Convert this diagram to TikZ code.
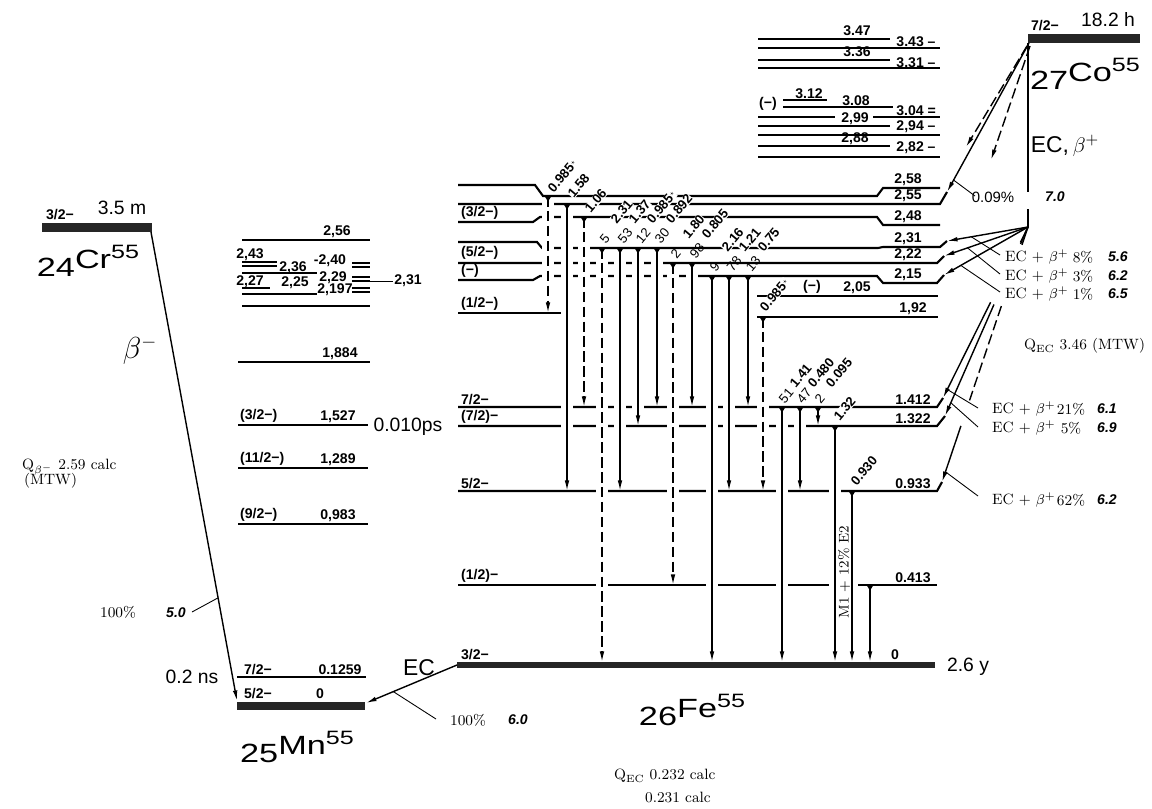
\documentclass[tikz,border=0pt]{standalone}
\usepackage{fontspec}
\usepackage{graphicx}
\setsansfont{Liberation Sans}
\usetikzlibrary{arrows.meta,calc}

% nuclide symbol: Z, element, A
\newcommand{\nucl}[3]{\scalebox{1.3}[1]{\raisebox{-4.5pt}{#1}#2\raisebox{5.5pt}{\fontsize{11}{12}\selectfont #3}}}
% gamma line: x, from y, to y, extra style
\newcommand{\gline}[4]{%
  \draw[gap] (#1,#2+5) -- (#1,#3-6);
  \draw[gs,#4] (#1,#2) -- (#1,#3);
  \fill (#1-3.5,#2) -- (#1+3.5,#2) -- (#1,#2+5.5) -- cycle;}
% small star after an energy
\newcommand{\st}{\kern0.4pt\raisebox{2pt}{\scalebox{0.55}{$\star$}}}

\begin{document}
\begin{tikzpicture}[x=0.02cm,y=-0.02cm,
  lev/.style={line width=1.2pt},
  thin/.style={line width=0.5pt},
  bar/.style={fill=black!85},
  tip/.style={-{Latex[length=6pt,width=2.6pt]}},
  gs/.style={line width=0.8pt,tip},
  gd/.style={dash pattern=on 6pt off 2.5pt},
  gap/.style={draw=white,line width=7pt},
  ec/.style={line width=0.8pt},
  lab/.style={font=\fontsize{8}{9}\sffamily\bfseries,inner sep=1pt},
  spin/.style={lab,anchor=south west},
  en/.style={lab,anchor=south},
  gl/.style={font=\fontsize{7.5}{8}\sffamily\bfseries,rotate=50,anchor=west,inner sep=0.2pt,fill=white},
  gi/.style={font=\fontsize{7.5}{8}\sffamily,rotate=50,anchor=west,inner sep=0.2pt},
  ser/.style={font=\fontsize{8.5}{10}\rmfamily,inner sep=1pt},
  ft/.style={font=\fontsize{8}{9}\sffamily\bfseries\itshape,inner sep=1pt},
  mid/.style={font=\fontsize{11}{12}\sffamily,inner sep=1pt},
  big/.style={font=\fontsize{15}{16}\sffamily,inner sep=0pt}]
  \useasboundingbox (0,0) rectangle (1152,808);

  % ground states
  \fill[bar] (42,223) rectangle (152,232);
  \fill[bar] (237,702) rectangle (365,710);
  \fill[bar] (457,662) rectangle (935,668);
  \fill[bar] (1028,34) rectangle (1140,43);

  % kink ends fed from 27Co55
  \coordinate (k255) at (947,192);
  \coordinate (k231) at (947,241);
  \coordinate (k222) at (944,256);
  \coordinate (k215) at (944,275);
  \coordinate (k1412) at (943,398);
  \coordinate (k1322) at (945,416);
  \coordinate (k933) at (942,482);

  % 26Fe55 levels
  \draw[lev] (458,185) -- (535,185) -- (543,196) -- (877,196) -- (883,188) -- (940,188);
  \draw[lev] (458,204) -- (940,204) -- (k255);
  \draw[lev] (458,222) -- (533,222) -- (540,217) -- (877,217) -- (883,225) -- (940,225);
  \draw[lev] (458,242) -- (537,242) -- (542,248) -- (878,248) -- (883,247) -- (940,247) -- (k231);
  \draw[lev] (458,263) -- (937,263) -- (k222);
  \draw[lev] (458,280) -- (533,280) -- (540,276) -- (877,276) -- (883,283) -- (937,283) -- (k215);
  \draw[lev] (757,296) -- (938,296);
  \draw[lev] (458,313) -- (562,313);
  \draw[lev] (757,317) -- (938,317);
  \draw[lev] (458,407) -- (937,407) -- (k1412);
  \draw[lev] (458,426) -- (937,426) -- (k1322);
  \draw[lev] (458,491) -- (937,491) -- (k933);
  \draw[lev] (458,585) -- (937,585);

  % 25Mn55 levels
  \draw[lev] (242,240) -- (370,240);
  \draw[lev] (242,262) -- (277,262) (242,266) -- (277,266);
  \draw[lev] (242,273) -- (317,273);
  \draw[lev] (352,263) -- (370,263) (352,267) -- (370,267);
  \draw[lev] (352,277) -- (370,277) (352,281) -- (370,281);
  \draw[thin] (370,281) -- (393,281);
  \draw[lev] (242,288) -- (270,288);
  \draw[lev] (352,288) -- (370,288) (352,292) -- (370,292);
  \draw[lev] (242,294) -- (317,294);
  \draw[lev] (242,306) -- (370,306);
  \draw[lev] (238,362) -- (370,362);
  \draw[lev] (238,425) -- (368,425);
  \draw[lev] (238,468) -- (368,468);
  \draw[lev] (238,524) -- (368,524);
  \draw[lev] (237,677) -- (366,677);

  % upper levels above 27Co55 feeding
  \draw[lev] (758,39) -- (890,39);
  \draw[lev] (758,48) -- (940,48);
  \draw[lev] (758,60) -- (890,60);
  \draw[lev] (758,68) -- (940,68);
  \draw[lev] (783,100) -- (827,100);
  \draw[lev] (783,107) -- (893,107);
  \draw[lev] (758,117) -- (835,117) (873,117) -- (940,117);
  \draw[lev] (758,126) -- (890,126);
  \draw[lev] (758,135) -- (940,135);
  \draw[lev] (758,146) -- (890,146);
  \draw[lev] (758,157) -- (940,157);

  % gamma transitions in 26Fe55
  \gline{548}{196}{313}{gd}
  \gline{567}{204}{491}{}
  \gline{584}{217}{407}{gd}
  \gline{602}{248}{662}{gd}
  \gline{620}{248}{491}{}
  \gline{638}{248}{426}{}
  \gline{657}{248}{407}{}
  \gline{673}{263}{585}{gd}
  \gline{692}{263}{407}{}
  \gline{712}{276}{662}{}
  \gline{729}{276}{491}{}
  \gline{748}{276}{407}{}
  \gline{763}{317}{491}{gd}
  \gline{782}{407}{662}{}
  \gline{800}{407}{491}{}
  \gline{818}{407}{426}{}
  \gline{835}{426}{662}{}
  \gline{852}{491}{662}{}
  \gline{870}{585}{662}{}

  % EC, beta+ branches of 27Co55
  \coordinate (co) at (1029,43);
  \coordinate (br) at (1028,227);
  \draw[ec] (1028,43) -- (1028,192);
  \draw[ec] (1028,209) -- (br);
  \draw[ec,tip] (co) -- (k255);
  \draw[ec,gd,tip] (1027,46) -- (966,147);
  \draw[ec,gd,tip] (1030,46) -- (991,160);
  \foreach \k in {k231,k222,k215} \draw[ec,tip] (br) -- (\k);
  \foreach \k/\t in {k1412/0.44,k1322/0.41} {
    \draw[ec] (br) -- ($(br)!0.09!(\k)$);
    \draw[ec,tip] ($(br)!\t!(\k)$) -- (\k);}
  \draw[ec] (br) -- ($(br)!0.07!(k933)$);
  \draw[ec,gd] ($(br)!0.31!(k933)$) -- ($(br)!0.68!(k933)$);
  \draw[ec,tip] ($(br)!0.78!(k933)$) -- (k933);
  % leaders
  \draw[thin] ($(co)!0.92!(k255)$) -- (975,196);
  \draw[thin] ($(br)!0.7!(k231)$) -- (1000,255);
  \draw[thin] ($(br)!0.72!(k222)$) -- (1000,274);
  \draw[thin] ($(br)!0.8!(k215)$) -- (1000,292);
  \draw[thin] ($(br)!0.95!(k1412)$) -- (978,408);
  \draw[thin] ($(br)!0.93!(k1322)$) -- (978,427);
  \draw[thin] ($(br)!0.96!(k933)$) -- (978,496);

  % beta- of 24Cr55 and EC of 26Fe55
  \coordinate (crr) at (151,232);
  \coordinate (mng) at (237,701);
  \coordinate (fel) at (457,665);
  \coordinate (mnr) at (366,703);
  \draw[ec,tip] (crr) -- (mng);
  \draw[thin] ($(crr)!0.78!(mng)$) -- (192,612);
  \draw[ec,tip] (fel) -- (mnr);
  \draw[thin] ($(fel)!0.7!(mnr)$) -- (436,719);

  % gamma labels
  \node[gl] at (550,191) {0.985\st};
  \node[gl] at (570,196) {1.58};
  \node[gl] at (587,211) {1.06};
  \foreach \x/\e in {602/2.31, 620/1.37, 638/0.985\st, 657/0.892} \node[gl] at (\x+11,222) {\e};
  \foreach \x/\e in {673/1.80, 692/0.805} \node[gl] at (\x+12,237) {\e};
  \foreach \x/\e in {712/2.16, 729/1.21, 748/0.75} \node[gl] at (\x+12,250) {\e};
  \node[gl] at (762,310) {0.985\st};
  \foreach \x/\e in {782/1.41, 800/0.480, 818/0.095} \node[gl] at (\x+10,386) {\e};
  \node[gl] at (836,419) {1.32};
  \node[gl] at (853,484) {0.930};
  \foreach \x/\i in {602/5, 620/53, 638/12, 657/30} \node[gi] at (\x,242) {\i};
  \foreach \x/\i in {673/2, 692/98} \node[gi] at (\x,257) {\i};
  \foreach \x/\i in {712/9, 729/78, 748/13} \node[gi] at (\x,270) {\i};
  \foreach \x/\i in {782/51, 800/47, 818/2} \node[gi] at (\x-1,402) {\i};
  \node[ser,rotate=90,fill=white,inner sep=0pt,font=\fontsize{8}{9}\rmfamily] (mix) at (844,572) {M1 + 12\% E2};

  % 26Fe55 level labels
  \node[spin] at (459,222) {(3/2−)};
  \node[spin] at (459,262) {(5/2−)};
  \node[spin] at (459,280) {(−)};
  \node[spin] at (459,313) {(1/2−)};
  \node[spin] at (459,407) {7/2−};
  \node[spin] at (459,426) {(7/2)−};
  \node[spin] at (459,491) {5/2−};
  \node[spin] at (459,585) {(1/2)−};
  \node[spin] at (459,662) {3/2−};
  \node[en] at (908,188) {2,58};
  \node[en] at (908,204) {2,55};
  \node[en] at (908,225) {2,48};
  \node[en] at (908,247) {2,31};
  \node[en] at (908,263) {2,22};
  \node[en] at (908,283) {2,15};
  \node[en] at (812,296) {(−)};
  \node[en] at (857,296) {2,05};
  \node[en] at (913,317) {1,92};
  \node[en] at (913,407) {1.412};
  \node[en] at (913,426) {1.322};
  \node[en] at (913,491) {0.933};
  \node[en] at (913,585) {0.413};
  \node[en] at (895,662) {0};
  \node[mid] (fehl) at (968,667) {2.6 y};
  \node[big] (fe) at (692,710) {\nucl{26}{Fe}{55}};

  % 25Mn55 level labels
  \node[en] at (337,240) {2,56};
  \node[lab] at (250,255) {2,43};
  \node[lab] at (293,268) {2,36};
  \node[lab] at (330,261) {-2,40};
  \node[lab] at (333,278) {2,29};
  \node[lab] at (250,282) {2,27};
  \node[lab] at (295,283) {2,25};
  \node[lab] at (335,290) {2,197};
  \node[lab] at (408,281) {2,31};
  \node[en] at (340,362) {1,884};
  \node[spin] at (238,425) {(3/2−)};
  \node[en] at (338,425) {1,527};
  \node[mid] (tau) at (408,427) {0.010ps};
  \node[spin] at (238,468) {(11/2−)};
  \node[en] at (338,468) {1,289};
  \node[spin] at (238,524) {(9/2−)};
  \node[en] at (338,524) {0,983};
  \node[spin] at (242,677) {7/2−};
  \node[en] at (340,677) {0.1259};
  \node[spin] at (242,701) {5/2−};
  \node[en] at (320,701) {0};
  \node[mid] (mnhl) at (192,677) {0.2 ns};
  \node[big] (mn) at (297,747) {\nucl{25}{Mn}{55}};

  % 24Cr55
  \node[spin] at (44,222) {3/2−};
  \node[mid] (crhl) at (122,208) {3.5 m};
  \node[big] (cr) at (88,261) {\nucl{24}{Cr}{55}};
  \node[font=\fontsize{16}{18}\selectfont] (bm) at (140,350) {$\beta^-$};
  \node[ser,anchor=west] (qbm) at (20,467) {Q$_{\beta^-}$ 2.59 calc};
  \node[ser,anchor=west] (qbm2) at (22,481) {(MTW)};
  \node[ser] (bi) at (118,612) {100\%};
  \node[ft] (bf) at (176,613) {5.0};

  % EC to 25Mn55
  \node[font=\fontsize{13}{14}\sffamily] (ecmn) at (419,668) {EC};
  \node[ser] (eci) at (468,720) {100\%};
  \node[ft] (ecf) at (518,720) {6.0};
  \node[ser,anchor=west] (qfe) at (612,776) {Q$_{\rm EC}$ 0.232 calc};
  \node[ser,anchor=west] (qfe2) at (643,797) {0.231 calc};

  % 27Co55
  \node[en] at (1045,33) {7/2−};
  \node[mid] (cohl) at (1108,20) {18.2 h};
  \node[big] (co55) at (1085,74) {\nucl{27}{Co}{55}};
  \node[font=\fontsize{13}{14}\sffamily] (ecco) at (1065,146) {EC,\,$\beta^+$};
  \node[font=\fontsize{8.5}{10}\sffamily,inner sep=1pt] at (993,197) {0.09\%};
  \node[ft] at (1055,197) {7.0};
  \foreach \y/\p/\f in {257/8/5.6, 276/3/6.2, 294/1/6.5} {
    \node[ser,anchor=west] at (1003,\y) {EC + $\beta^+$};
    \node[ser] at (1083,\y) {\p\%};
    \node[ft] at (1118,\y) {\f};}
  \foreach \y/\p/\f in {409/21/6.1, 428/5/6.9, 500/62/6.2} {
    \node[ser,anchor=west] at (990,\y) {EC + $\beta^+$};
    \node[ser] at (1071,\y) {\p\%};
    \node[ft] at (1107,\y) {\f};}
  \node[ser,anchor=west] (qco) at (1022,346) {Q$_{\rm EC}$ 3.46 (MTW)};

  % levels above 2.6 MeV
  \node[en] at (857,38) {3.47};
  \node[lab] at (916,42) {3.43 –};
  \node[en] at (857,59) {3.36};
  \node[lab] at (916,63) {3.31 –};
  \node[lab] at (768,104) {(−)};
  \node[lab] at (809,94) {3.12};
  \node[lab] at (856,101) {3.08};
  \node[lab] at (916,111) {3.04 =};
  \node[lab] at (855,119) {2,99};
  \node[lab] at (916,127) {2,94 –};
  \node[lab] at (855,139) {2,88};
  \node[lab] at (916,148) {2,82 –};
\end{tikzpicture}
\end{document}
